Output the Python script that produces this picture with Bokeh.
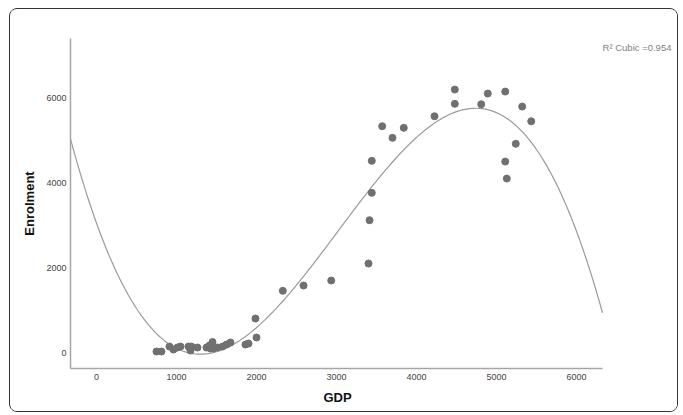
import numpy as np
from bokeh.plotting import figure
from bokeh.models import Range1d, Label, ColumnDataSource, Title
from bokeh.embed import file_html
from bokeh.resources import INLINE

# Observations: GDP against enrolment
gdp = [750, 812, 912, 962, 1012, 1050, 1150, 1187, 1175, 1262, 1375, 1425, 1412,
       1450, 1462, 1512, 1575, 1625, 1675, 1862, 1900, 2000, 1987,
       2329, 2588, 2934, 3400,
       3413, 3441, 3441, 3571, 3700, 3841, 4225, 4479, 4479, 4809, 4891, 5109,
       5321, 5434, 5241, 5109, 5129]
enrolment = [24, 24, 141, 71, 118, 141, 141, 141, 47, 118, 118, 94, 165,
             247, 94, 118, 141, 188, 235, 188, 212, 353, 800,
             1452, 1576, 1694, 2094,
             3113, 3758, 4511, 5325, 5052, 5287, 5560, 6188, 5852, 5842, 6094, 6141,
             5788, 5442, 4911, 4494, 4094]

x_ticks = [0, 1000, 2000, 3000, 4000, 5000, 6000]
y_ticks = [0, 2000, 4000, 6000]
x_lo, x_hi = -325, 6325      # extent of the GDP axis line and fit curve
y_lo, y_hi = -376, 7390
x_view_hi = 7275             # room on the right for the fit annotation

# Cubic regression of enrolment on GDP
coef = np.polyfit(gdp, enrolment, 3)
xs = np.linspace(x_lo, x_hi, 400)
ys = np.polyval(coef, xs)

p = figure(width=669, height=404, output_backend="svg", toolbar_location=None,
           x_range=Range1d(x_lo, x_view_hi), y_range=Range1d(y_lo, y_hi),
           min_border_left=60, min_border_right=1, min_border_top=29,
           min_border_bottom=45, margin=(8, 0, 0, 9),
           styles={"border": "1px solid #333333", "border-radius": "8px",
                   "overflow": "hidden"})
p.outline_line_color = None
p.grid.visible = False
p.background_fill_color = "white"
p.border_fill_color = "white"

for ax in (p.xaxis, p.yaxis):
    ax.axis_line_color = "#a6a6a6"
    ax.axis_line_width = 1.5
    ax.major_tick_line_color = None
    ax.minor_tick_line_color = None
    ax.major_tick_out = 0
    ax.major_tick_in = 0
    ax.major_label_text_font = "Liberation Sans"
    ax.major_label_text_font_size = "9px"
    ax.major_label_text_color = "#444444"
    ax.axis_label_text_font = "Liberation Sans"
    ax.axis_label_text_font_size = "13px"
    ax.axis_label_text_font_style = "bold"
    ax.axis_label_text_color = "#111111"

p.xaxis.bounds = (x_lo, x_hi)
p.xaxis.ticker = x_ticks
p.yaxis.ticker = y_ticks
p.yaxis.axis_label = "Enrolment"
p.xaxis.major_label_standoff = 5
p.yaxis.major_label_standoff = 4
p.yaxis.axis_label_standoff = 6

# GDP title placed under the middle of the bounded axis line
p.add_layout(Title(text="GDP", align="left", offset=253, standoff=10,
                   text_font="Liberation Sans", text_font_size="13px",
                   text_font_style="bold", text_color="#111111"), "below")

p.line(xs, ys, line_color="#9a9a9a", line_width=1.2)
src = ColumnDataSource(dict(x=gdp, y=enrolment))
p.scatter("x", "y", source=src, size=7, fill_color="#707070", line_color="#707070")

p.add_layout(Label(x=7187, y=7177, text="R\u00b2 Cubic =0.954",
                   text_align="right", text_baseline="middle",
                   text_font="Liberation Sans", text_font_size="9.5px",
                   text_color="#808080"))

open("out.html", "w").write(file_html(p, INLINE))
